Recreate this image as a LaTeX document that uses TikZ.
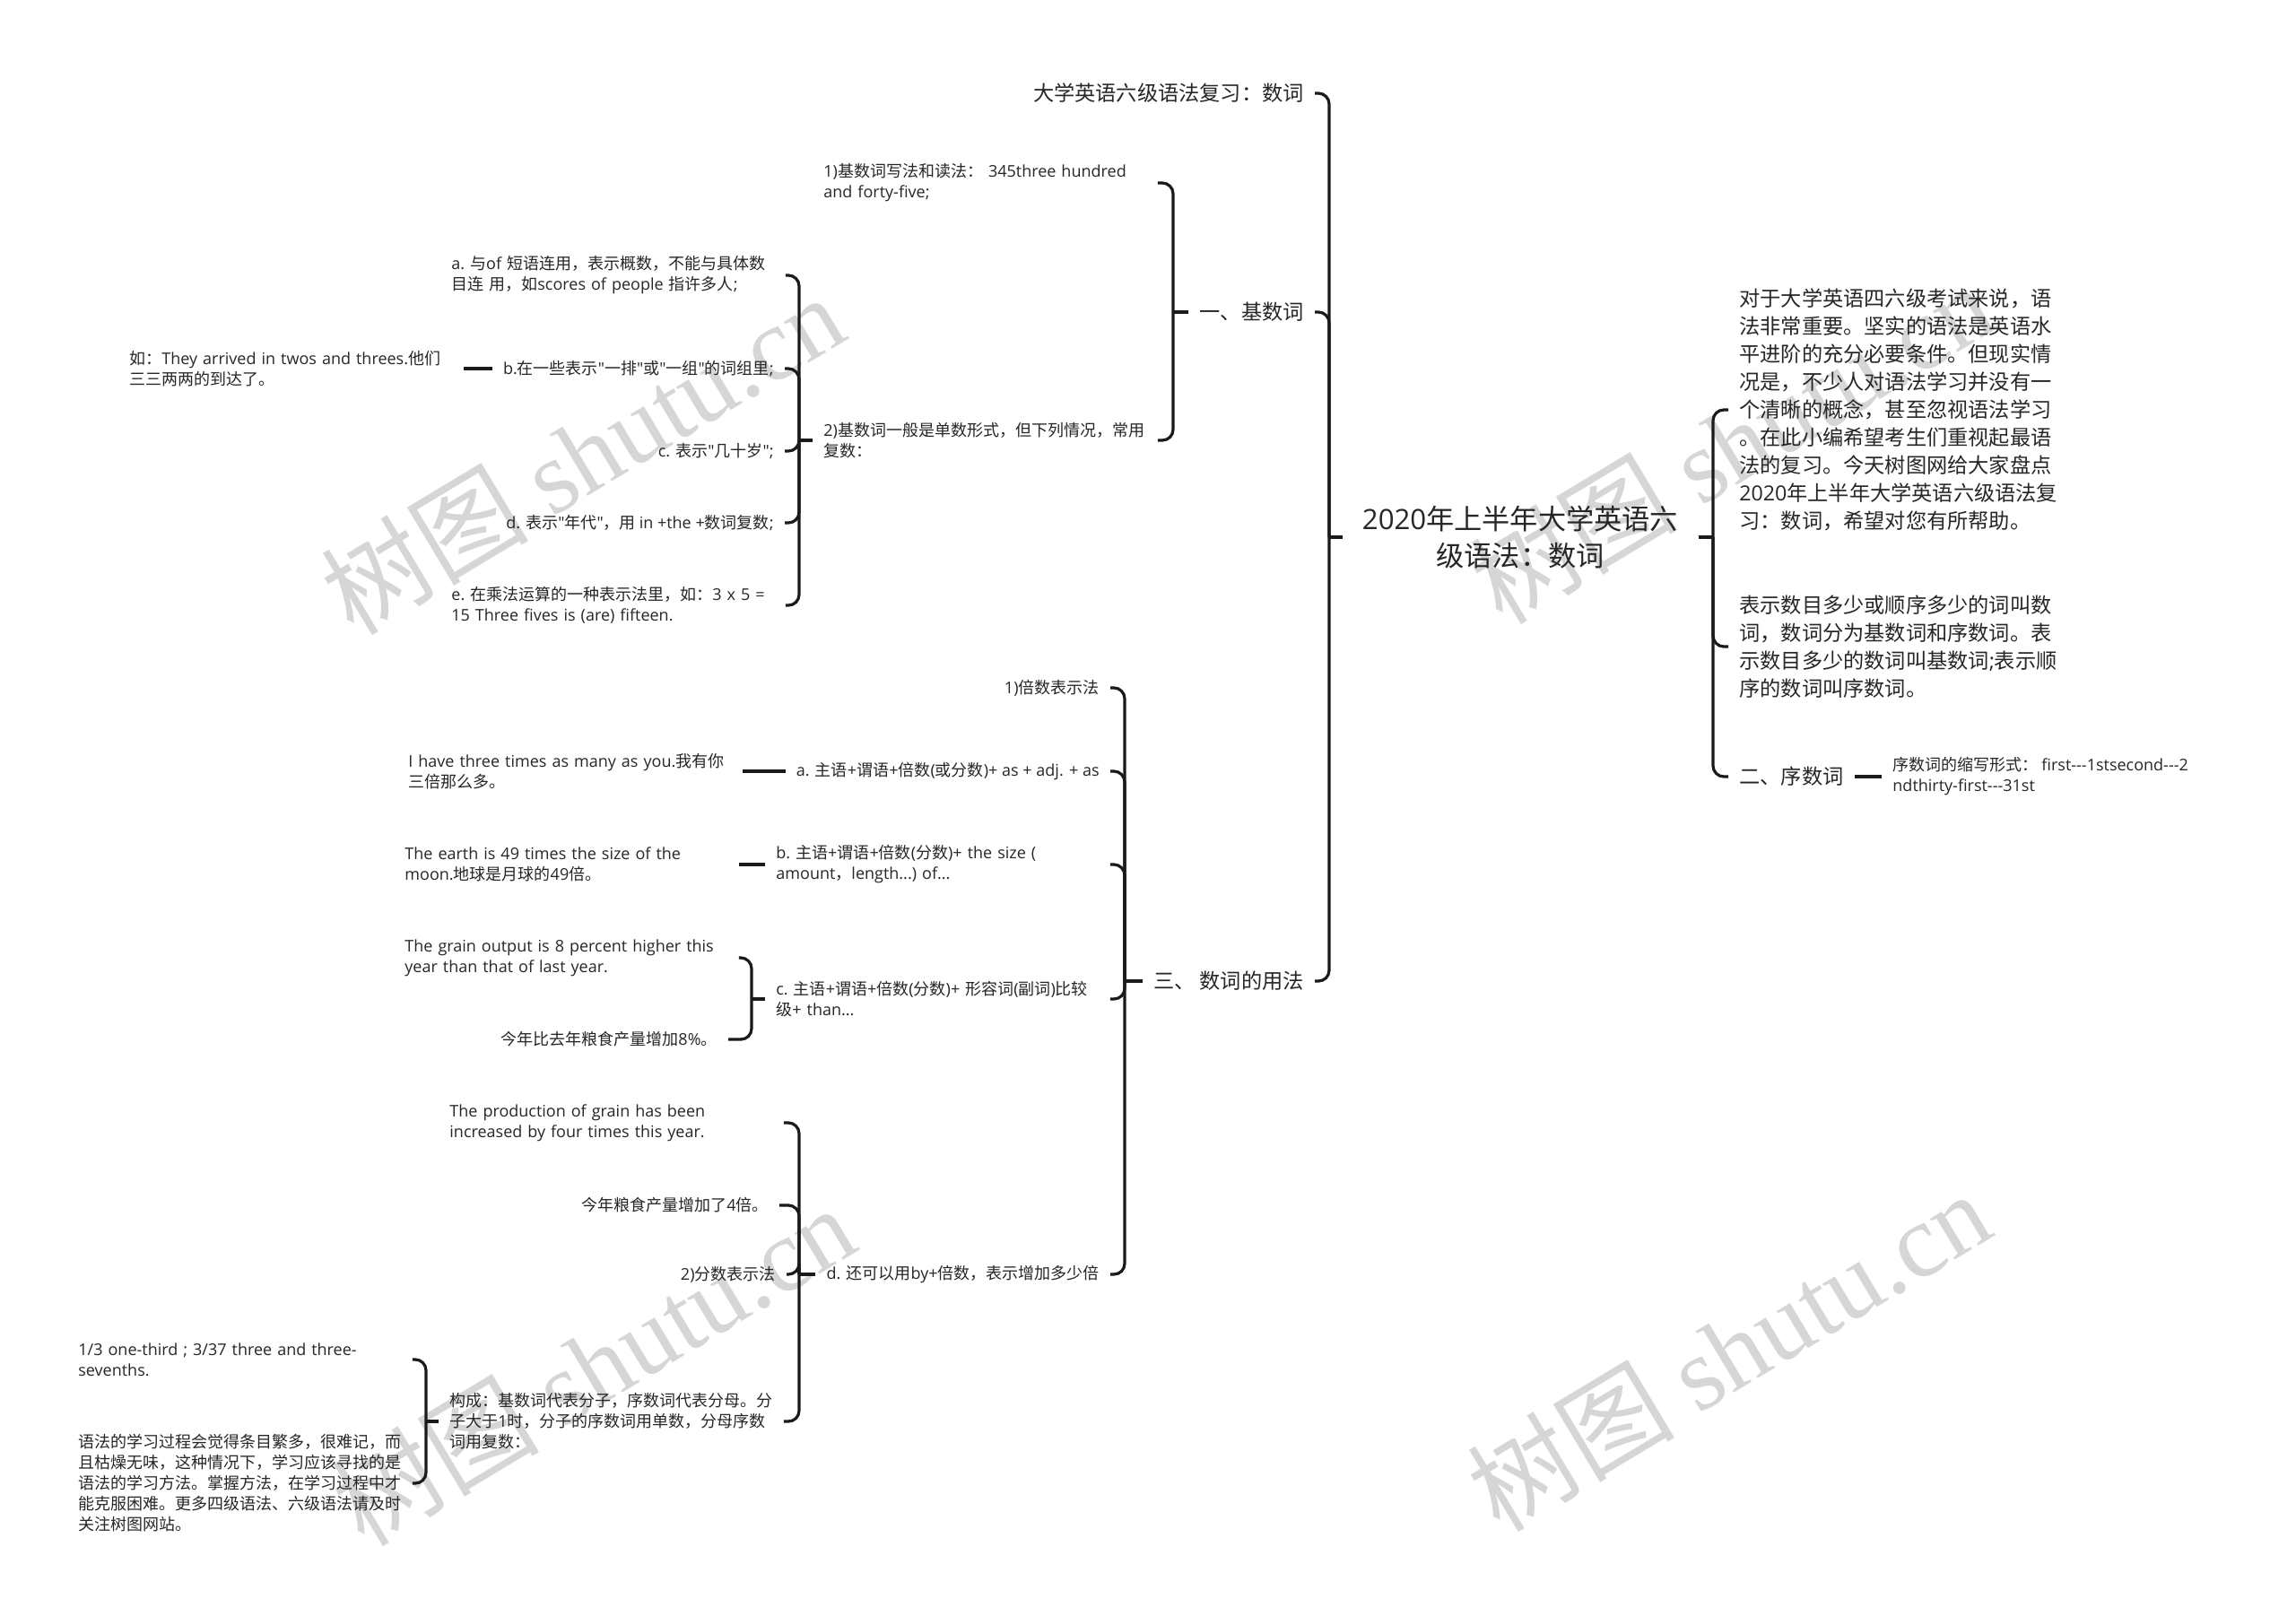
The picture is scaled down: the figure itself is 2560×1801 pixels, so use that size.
\documentclass[tikz,border=0pt]{standalone}
\usepackage{fontspec}
\setmainfont{Open Sans}[Ligatures=TeXOff]
\newfontfamily\latinf{Open Sans}[Ligatures=TeXOff]
\newfontfamily\cjkf{Noto Sans CJK SC}[Ligatures=TeXOff]
\newfontfamily\wmser{Liberation Serif}
\newfontfamily\wmcjk{Noto Sans CJK SC}
\newXeTeXintercharclass\mycjk
\newcount\mycc
\mycc="2E80
\loop\XeTeXcharclass\mycc=\mycjk\advance\mycc by 1\relax\ifnum\mycc<"A000\repeat
\mycc="FF00
\loop\XeTeXcharclass\mycc=\mycjk\advance\mycc by 1\relax\ifnum\mycc<"FFF0\repeat
\XeTeXinterchartoks 0 \mycjk={\cjkf}
\XeTeXinterchartoks 4095 \mycjk={\cjkf}
\XeTeXinterchartoks \mycjk 0={\latinf}
\XeTeXinterchartoks 4095 0={\latinf}
\newcommand\wmfont{\XeTeXinterchartokenstate=0\relax\fontsize{58}{58}\selectfont}
\definecolor{txt}{HTML}{262626}
\definecolor{lnc}{HTML}{1A1A1A}
\definecolor{wmc}{HTML}{D6D6D6}
\tikzset{
  base/.style={inner xsep=6pt, inner ysep=2pt, text=txt, align=left},
  sm/.style={base, font=\fontsize{9}{11.5}\selectfont},
  wr/.style={sm, text width=180pt},
  md/.style={base, font=\fontsize{11.6}{15.5}\selectfont},
  rt/.style={inner xsep=11pt, inner ysep=2pt, text=txt, align=center, font=\fontsize{15.6}{20.5}\selectfont},
  conn/.style={draw=lnc, line width=1.6pt, rounded corners=6pt},
  wm/.style={text=wmc, rotate=31, inner sep=0pt, font=\wmfont}
}
\begin{document}
\begin{tikzpicture}[x=0.5pt,y=-0.5pt]
\XeTeXinterchartokenstate=1
\fill[white] (0,0) rectangle (2560,1801);
\useasboundingbox (0,0) rectangle (2560,1801);
% watermarks
\node[wm] (w1) at (649,506) {\wmcjk 树图\ \wmser shutu.cn};
\node[wm] (w2) at (1930,494) {\wmcjk 树图\ \wmser shutu.cn};
\node[wm] (w3) at (661,1522) {\wmcjk 树图\ \wmser shutu.cn};
\node[wm] (w4) at (1927,1506) {\wmcjk 树图\ \wmser shutu.cn};
% root
\node[rt] (root) at (1695,599) {2020年上半年大学英语六\\级语法：数词};
\coordinate (j0) at (1482,599);
\coordinate (jR) at (1910,599);
% left main branches
\node[md, anchor=east] (L1) at (1466,104) {大学英语六级语法复习：数词};
\node[md, anchor=east] (L2) at (1466,348) {一、基数词};
\node[md, anchor=east] (L3) at (1466,1094) {三、 数词的用法};
% section one
\coordinate (j1) at (1308,348);
\node[wr, anchor=west] (A1) at (906,204) {1)基数词写法和读法：~345three~hundred\\and~forty-five;};
\node[wr, anchor=west] (A2) at (906,491) {2)基数词一般是单数形式，但下列情况，常用\\复数：};
\coordinate (j2) at (891,491);
\node[wr, anchor=west] (B1) at (491,307) {a.~与of~短语连用，表示概数，不能与具体数\\目连~用，如scores~of~people~指许多人;};
\node[sm, anchor=east] (B2) at (875,411) {b.在一些表示"一排"或"一组"的词组里;};
\node[sm, anchor=east] (B3) at (875,503) {c. 表示"几十岁";};
\node[sm, anchor=east] (B4) at (875,583) {d. 表示"年代"，用 in +the +数词复数;};
\node[wr, anchor=west] (B5) at (491,675) {e.~在乘法运算的一种表示法里，如：3~x~5~=\\15~Three~fives~is~(are)~fifteen.};
\node[wr, anchor=west] (Bx) at (132,411) {如：They~arrived~in~twos~and~threes.他们\\三三两两的到达了。};
% section three
\coordinate (j3) at (1254,1094);
\node[sm, anchor=east] (C1) at (1238,767) {1)倍数表示法};
\node[sm, anchor=east] (C2) at (1238,860) {a. 主语+谓语+倍数(或分数)+ as + adj. + as};
\node[wr, anchor=west] (C3) at (853,964) {b.~主语+谓语+倍数(分数)+~the~size~(\\amount，length...)~of...};
\node[wr, anchor=west] (C4) at (853,1114) {c.~主语+谓语+倍数(分数)+~形容词(副词)比较\\级+~than...};
\node[sm, anchor=east] (C5) at (1238,1421) {d. 还可以用by+倍数，表示增加多少倍};
\node[wr, anchor=west] (C2x) at (443,860) {I~have~three~times~as~many~as~you.我有你\\三倍那么多。};
\node[wr, anchor=west] (C3x) at (439,964) {The~earth~is~49~times~the~size~of~the\\moon.地球是月球的49倍。};
\coordinate (j4) at (838,1114);
\node[wr, anchor=west] (G1) at (439,1068) {The~grain~output~is~8~percent~higher~this\\year~than~that~of~last~year.};
\node[sm, anchor=east] (G2) at (812,1159) {今年比去年粮食产量增加8\%。};
\coordinate (j5) at (891,1421);
\node[wr, anchor=west] (D1) at (489,1252) {The~production~of~grain~has~been\\increased~by~four~times~this~year.};
\node[sm, anchor=east] (D2) at (869,1344) {今年粮食产量增加了4倍。};
\node[sm, anchor=east] (D3) at (877,1421) {2)分数表示法};
\node[wr, anchor=west] (D4) at (489,1585) {构成：基数词代表分子，序数词代表分母。分\\子大于1时，分子的序数词用单数，分母序数\\词用复数：};
\coordinate (j6) at (475,1585);
\node[wr, anchor=west] (E1) at (75,1516) {1/3~one-third~;~3/37~three~and~three-\\sevenths.};
\node[wr, anchor=west] (E2) at (75,1654) {语法的学习过程会觉得条目繁多，很难记，而\\且枯燥无味，这种情况下，学习应该寻找的是\\语法的学习方法。掌握方法，在学习过程中才\\能克服困难。更多四级语法、六级语法请及时\\关注树图网站。};
% right side
\node[md, anchor=west] (P1) at (1927,457) {对于大学英语四六级考试来说，语\\法非常重要。坚实的语法是英语水\\平进阶的充分必要条件。但现实情\\况是，不少人对语法学习并没有一\\个清晰的概念，甚至忽视语法学习\\。在此小编希望考生们重视起最语\\法的复习。今天树图网给大家盘点\\2020年上半年大学英语六级语法复\\习：数词，希望对您有所帮助。};
\node[md, anchor=west] (P2) at (1927,721) {表示数目多少或顺序多少的词叫数\\词，数词分为基数词和序数词。表\\示数目多少的数词叫基数词;表示顺\\序的数词叫序数词。};
\node[md, anchor=west] (R3) at (1927,866) {二、序数词};
\node[sm, anchor=west] (R3x) at (2098,866) {序数词的缩写形式： first-{}-{}-1stsecond-{}-{}-2\\ndthirty-first-{}-{}-31st};
% connectors
\draw[conn] (root.west) -- (j0);
\draw[conn] (j0) |- (L1.east);
\draw[conn] (j0) |- (L2.east);
\draw[conn] (j0) |- (L3.east);
\draw[conn] (L2.west) -- (j1);
\draw[conn] (j1) |- (A1.east);
\draw[conn] (j1) |- (A2.east);
\draw[conn] (A2.west) -- (j2);
\draw[conn] (j2) |- (B1.east);
\draw[conn] (j2) |- (B2.east);
\draw[conn] (j2) |- (B3.east);
\draw[conn] (j2) |- (B4.east);
\draw[conn] (j2) |- (B5.east);
\draw[conn] (B2.west) -- (Bx.east);
\draw[conn] (L3.west) -- (j3);
\draw[conn] (j3) |- (C1.east);
\draw[conn] (j3) |- (C2.east);
\draw[conn] (j3) |- (C3.east);
\draw[conn] (j3) |- (C4.east);
\draw[conn] (j3) |- (C5.east);
\draw[conn] (C2.west) -- (C2x.east);
\draw[conn] (C3.west) -- (C3x.east);
\draw[conn] (C4.west) -- (j4);
\draw[conn] (j4) |- (G1.east);
\draw[conn] (j4) |- (G2.east);
\draw[conn] (C5.west) -- (j5);
\draw[conn] (j5) |- (D1.east);
\draw[conn] (j5) |- (D2.east);
\draw[conn] (j5) |- (D3.east);
\draw[conn] (j5) |- (D4.east);
\draw[conn] (D4.west) -- (j6);
\draw[conn] (j6) |- (E1.east);
\draw[conn] (j6) |- (E2.east);
\draw[conn] (root.east) -- (jR);
\draw[conn] (jR) |- (P1.west);
\draw[conn] (jR) |- (P2.west);
\draw[conn] (jR) |- (R3.west);
\draw[conn] (R3.east) -- (R3x.west);
\end{tikzpicture}
\end{document}
